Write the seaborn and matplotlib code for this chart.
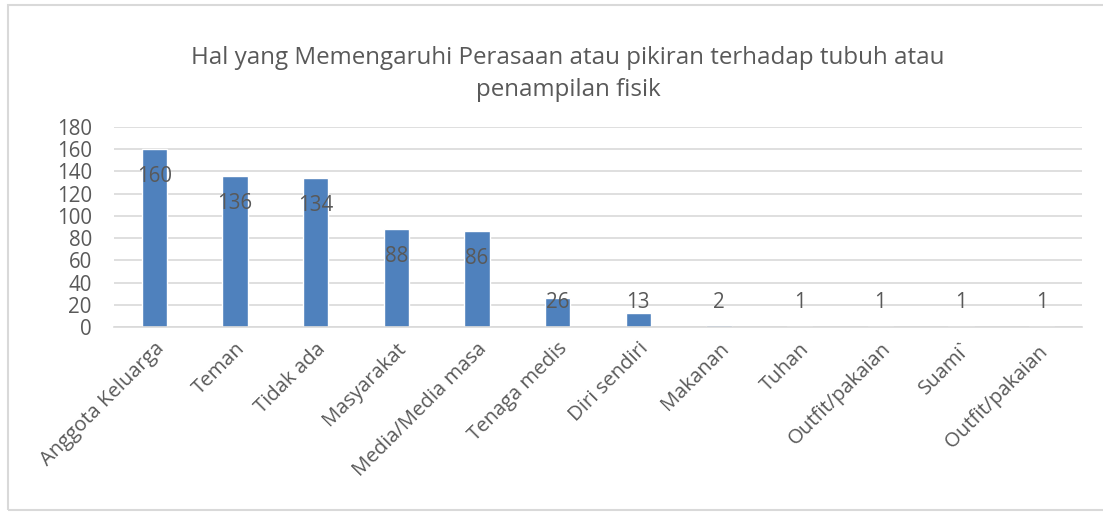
import matplotlib
matplotlib.use("Agg")
import matplotlib.pyplot as plt
import matplotlib.patches as mpatches
import seaborn as sns
import pandas as pd

categories = ["Anggota Keluarga", "Teman", "Tidak ada", "Masyarakat", "Media/Media masa",
              "Tenaga medis", "Diri sendiri", "Makanan", "Tuhan", "Outfit/pakaian",
              "Suami`", "Outfit/pakaian "]
counts = [160, 136, 134, 88, 86, 26, 13, 2, 1, 1, 1, 1]
y_ticks = [0, 20, 40, 60, 80, 100, 120, 140, 160, 180]
title = "Hal yang Memengaruhi Perasaan atau pikiran terhadap tubuh atau\npenampilan fisik"

BAR = "#4F81BD"
TXT = "#595959"
GRID = "#D9D9D9"

sns.set_theme(style="white")
plt.rcParams["font.family"] = ["Open Sans", "DejaVu Sans"]

df = pd.DataFrame({"kategori": categories, "jumlah": counts})

fig = plt.figure(figsize=(11.03, 5.15), dpi=100)
W, H = 1103, 515
ax = fig.add_axes([114 / W, 1 - 327 / H, (1082 - 114) / W, 200 / H])

sns.barplot(data=df, x="kategori", y="jumlah", color=BAR, width=0.31,
            saturation=1, ax=ax, order=categories)

ax.set_ylim(0, 180)
ax.set_xlim(-0.5, len(categories) - 0.5)
ax.set_yticks(y_ticks)
ax.yaxis.grid(True, color=GRID, linewidth=1.2)
ax.set_axisbelow(True)
for s in ["top", "right", "left"]:
    ax.spines[s].set_visible(False)
ax.spines["bottom"].set_color(GRID)
ax.spines["bottom"].set_linewidth(1.2)
ax.set_xlabel("")
ax.set_ylabel("")
ax.tick_params(axis="y", labelsize=14.8, colors=TXT, length=0, pad=16)
ax.tick_params(axis="x", labelsize=14.6, colors=TXT, length=0)
ax.set_xticks(range(len(categories)))
ax.set_xticklabels(categories, rotation=45, ha="right", rotation_mode="anchor")
for lbl in ax.get_xticklabels():
    lbl.set_y(-0.035)

# data labels: sit a bit below the bar top, but never below a minimum height
for i, v in enumerate(counts):
    ax.text(i, max(v - 24.5, 22.5), str(v), ha="center", va="center",
            fontsize=14.8, color=TXT)

fig.text(568 / W, 1 - 74 / H, title, ha="center", va="center",
         fontsize=17.4, color=TXT, linespacing=1.45)

border = mpatches.Rectangle((8 / W, 5 / H), 1.1, 1 - 10 / H, transform=fig.transFigure,
                            fill=False, edgecolor=GRID, linewidth=1.5)
fig.patches.append(border)

fig.savefig("out.png", dpi=100)
